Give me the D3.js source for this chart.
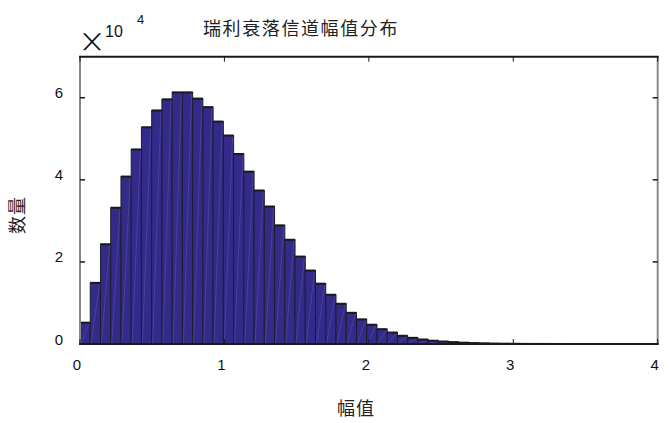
<!DOCTYPE html>
<html>
<head>
<meta charset="utf-8">
<script src="https://cdn.jsdelivr.net/npm/d3@7"></script>
<style>
body { margin: 0; background: #fff; }
text { font-family: "Liberation Sans", Arial, sans-serif; fill: #111; }
.cjk { font-family: "Noto Sans CJK SC", sans-serif; font-weight: 400; fill: #222; }
</style>
</head>
<body>
<div id="view"></div>
<script>
// histogram counts (x 1e4), 50 bins of width binW starting at 0
var binW = 0.0709;
var counts = [0.52, 1.49, 2.43, 3.32, 4.08, 4.74, 5.28, 5.69, 5.96, 6.13,
	6.13, 5.98, 5.77, 5.42, 5.08, 4.63, 4.20, 3.74, 3.35, 2.89,
	2.54, 2.13, 1.79, 1.47, 1.20, 0.98, 0.76, 0.60, 0.47, 0.36,
	0.28, 0.20, 0.15, 0.11, 0.08, 0.06, 0.045, 0.032, 0.022, 0.016,
	0.011, 0.008, 0.005, 0.003, 0.002, 0.0015, 0.001, 0.0005, 0, 0];
var xTicks = [0, 1, 2, 3, 4];
var yTicks = [0, 2, 4, 6];

var W = 669, H = 423;
var svg = d3.select("#view").append("svg")
	.attr("width", W).attr("height", H);

var x = d3.scaleLinear().domain([0, 4]).range([80, 657.7]);
var y = d3.scaleLinear().domain([0, 7]).range([344, 56.7]);

var bins = counts.map(function(c, i){ return {x0: i * binW, x1: (i + 1) * binW, v: c}; });

// bars
var g = svg.append("g");
g.selectAll("rect.bar")
	.data(bins)
	.enter().append("rect")
	.attr("class", "bar")
	.attr("x", function(d){ return x(d.x0); })
	.attr("y", function(d){ return y(d.v); })
	.attr("width", function(d){ return x(d.x1) - x(d.x0); })
	.attr("height", function(d){ return y(0) - y(d.v); })
	.style("fill", "#332a8a")
	.style("stroke", "#1e1e2a")
	.style("stroke-width", 1);

// faint triangulation line inside each bar
g.selectAll("line.diag")
	.data(bins.filter(function(d){ return d.v > 0.02; }))
	.enter().append("line")
	.attr("x1", function(d){ return x(d.x0) + 1; })
	.attr("y1", y(0) - 1)
	.attr("x2", function(d){ return x(d.x1) - 1; })
	.attr("y2", function(d){ return y(d.v) + 1; })
	.style("stroke", "#7a74c0")
	.style("stroke-width", 0.7)
	.style("opacity", 0.45);

// darker top edge of each bar
g.selectAll("line.top")
	.data(bins.filter(function(d){ return d.v > 0; }))
	.enter().append("line")
	.attr("x1", function(d){ return x(d.x0); })
	.attr("x2", function(d){ return x(d.x1); })
	.attr("y1", function(d){ return y(d.v); })
	.attr("y2", function(d){ return y(d.v); })
	.style("stroke", "#1a1a1a")
	.style("stroke-width", 2);

// axes box
var x0 = x(0), x1 = x(4), yb = y(0), yt = y(7);
svg.append("line").attr("x1", x0).attr("x2", x0).attr("y1", yt).attr("y2", yb)
	.style("stroke", "#8a8a8a").style("stroke-width", 2);
svg.append("line").attr("x1", x1).attr("x2", x1).attr("y1", yt).attr("y2", yb)
	.style("stroke", "#8a8a8a").style("stroke-width", 2);
svg.append("line").attr("x1", x0 - 1).attr("x2", x1 + 1).attr("y1", yt).attr("y2", yt)
	.style("stroke", "#1a1a1a").style("stroke-width", 2);
svg.append("line").attr("x1", x0 - 1).attr("x2", x1 + 1).attr("y1", yb).attr("y2", yb)
	.style("stroke", "#1a1a1a").style("stroke-width", 2);

// ticks
svg.selectAll("line.xtb").data(xTicks).enter().append("line")
	.attr("x1", function(d){ return x(d); }).attr("x2", function(d){ return x(d); })
	.attr("y1", yb).attr("y2", yb - 5)
	.style("stroke", "#1a1a1a").style("stroke-width", 1);
svg.selectAll("line.xtt").data(xTicks).enter().append("line")
	.attr("x1", function(d){ return x(d); }).attr("x2", function(d){ return x(d); })
	.attr("y1", yt).attr("y2", yt + 5)
	.style("stroke", "#1a1a1a").style("stroke-width", 1);
svg.selectAll("line.ytl").data(yTicks).enter().append("line")
	.attr("x1", x0).attr("x2", x0 + 5)
	.attr("y1", function(d){ return y(d); }).attr("y2", function(d){ return y(d); })
	.style("stroke", "#1a1a1a").style("stroke-width", 1.5);
svg.selectAll("line.ytr").data(yTicks).enter().append("line")
	.attr("x1", x1).attr("x2", x1 - 5)
	.attr("y1", function(d){ return y(d); }).attr("y2", function(d){ return y(d); })
	.style("stroke", "#1a1a1a").style("stroke-width", 1.5);

// tick labels
svg.selectAll("text.xl").data(xTicks).enter().append("text")
	.attr("x", function(d){ return x(d) - 3; })
	.attr("y", 370)
	.attr("text-anchor", "middle")
	.style("font-size", "15px")
	.text(function(d){ return d; });
svg.selectAll("text.yl").data(yTicks).enter().append("text")
	.attr("x", 63)
	.attr("y", function(d){ return y(d) + 0.5; })
	.attr("text-anchor", "end")
	.style("font-size", "15px")
	.text(function(d){ return d; });

// exponent marker: thin diagonal cross, stretched to a square
svg.append("text")
	.attr("transform", "translate(84,47) scale(1.9,1.05)")
	.style("font-family", "'DejaVu Sans Mono', monospace")
	.style("font-size", "14px")
	.text("\u2573");
svg.append("text").attr("x", 105).attr("y", 37).style("font-size", "16px").text("10");
svg.append("text").attr("x", 137).attr("y", 24).style("font-size", "13px").text("4");

// title and axis labels
svg.append("text").attr("class", "cjk")
	.attr("x", 301).attr("y", 35)
	.attr("text-anchor", "middle")
	.style("font-size", "18px")
	.style("letter-spacing", "1.6px")
	.text("瑞利衰落信道幅值分布");
svg.append("text").attr("class", "cjk")
	.attr("x", 356).attr("y", 415)
	.attr("text-anchor", "middle")
	.style("font-size", "18px")
	.style("letter-spacing", "1px")
	.text("幅值");
svg.append("text").attr("class", "cjk")
	.attr("transform", "translate(24,215) rotate(-90)")
	.attr("text-anchor", "middle")
	.style("font-size", "18px")
	.style("letter-spacing", "1px")
	.text("数量");
</script>
</body>
</html>
